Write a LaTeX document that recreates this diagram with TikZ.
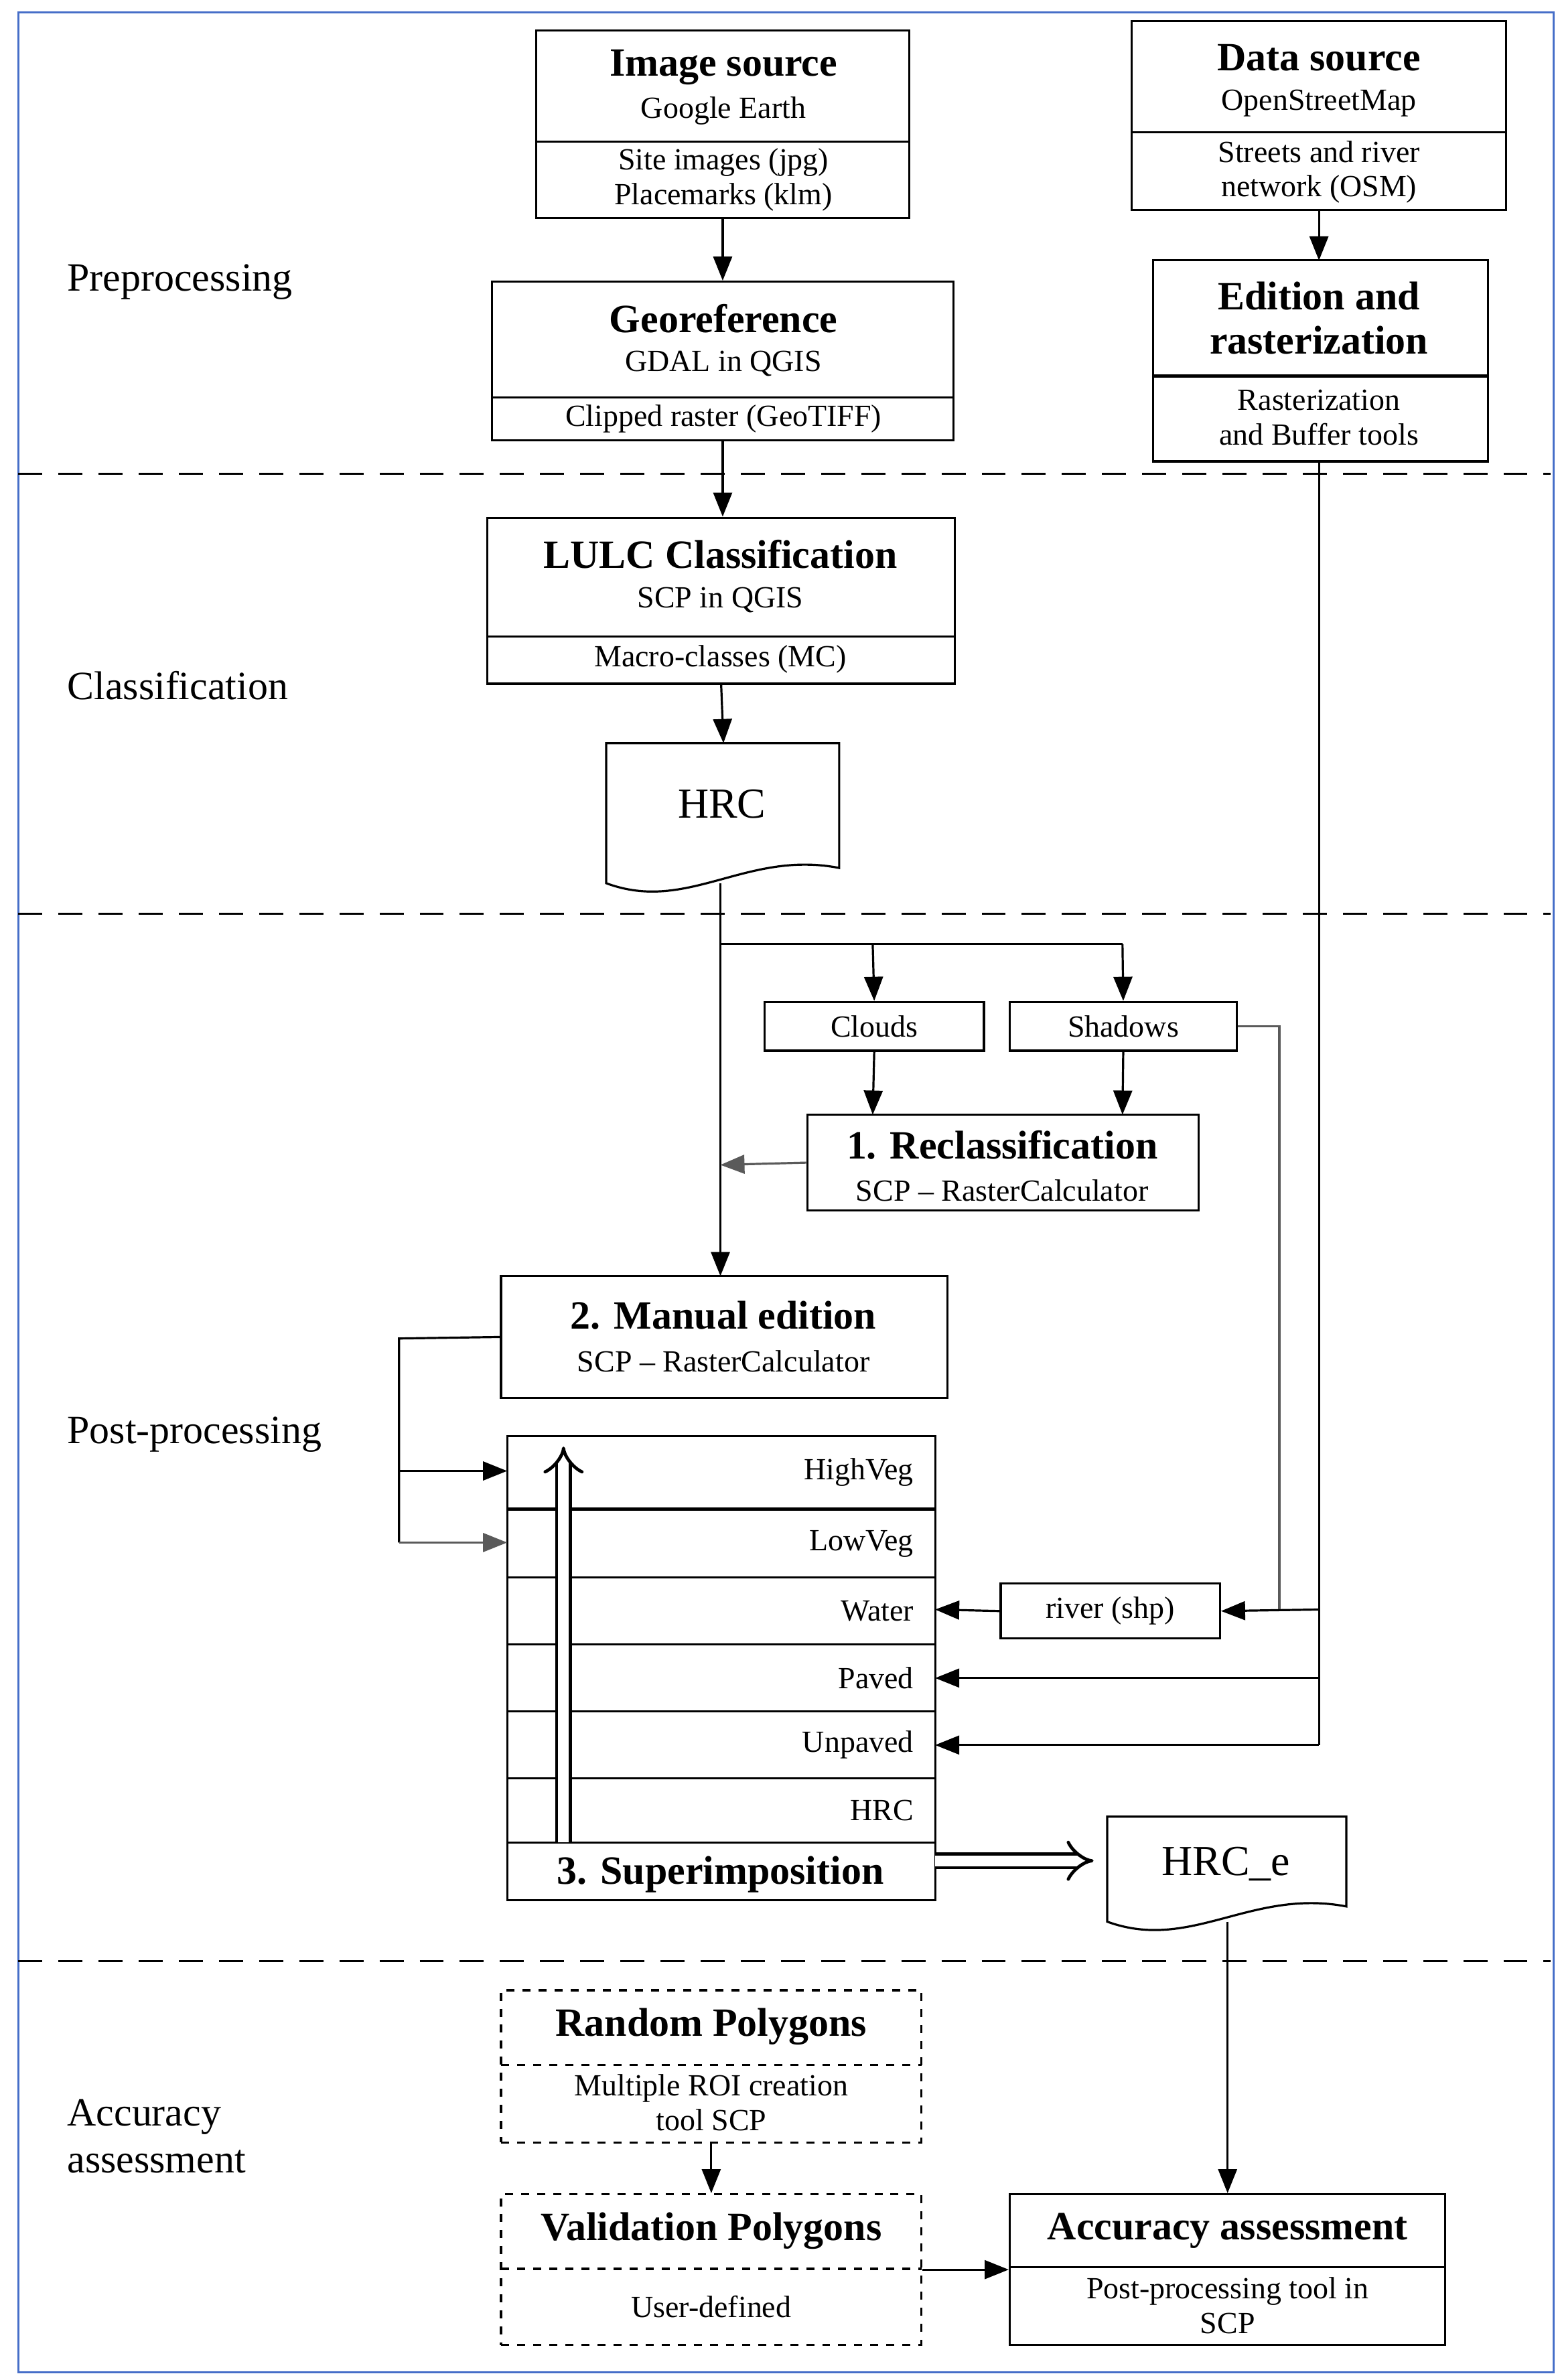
\documentclass[tikz,border=0pt]{standalone}
\usepackage{fontspec}
\setmainfont{Liberation Serif}
\usetikzlibrary{arrows.meta}
\definecolor{frameblue}{RGB}{70,110,200}
\definecolor{lgray}{RGB}{90,90,90}
\newcommand{\bx}[6]{\node[box,#6,minimum width={(#4-#2)*0.02cm},minimum height={(#5-#3)*0.02cm}] (#1) at ({(#2+#4)/2},{(#3+#5)/2}) {};}
\newcommand{\docshape}[5]{\draw[thick,fill=white] (#2,#3) -- (#4,#3) -- (#4,{#5-18}) .. controls ({#4-(#4-#2)*0.4},{#5-30}) and ({#2+(#4-#2)*0.35},{#5+12}) .. (#2,{#5-8}) -- cycle;
\coordinate (#1) at ({(#2+#4)/2},{(#3+#5)/2-8});}
\begin{document}
\begin{tikzpicture}[x=0.02cm,y=-0.02cm,
 box/.style={draw,thick,inner sep=0pt},
 tt/.style={font=\fontsize{15}{16.5}\selectfont\bfseries,align=center},
 st/.style={font=\fontsize{11.5}{13}\selectfont,align=center},
 lb/.style={font=\fontsize{15}{17.5}\selectfont,anchor=west,align=left},
 arr/.style={thick,-{Triangle[length=9pt,width=7pt]}},
 garr/.style={thick,lgray,-{Triangle[length=9pt,width=7pt]}},
 dbl/.style={double,double distance=4pt,very thick,-{Implies}}]
\useasboundingbox (0,0) rectangle (1024,1563);
\draw[frameblue,thick] (12,8) rectangle (1020,1558);
\foreach \y in {311,600,1288} \draw[thick,dashed,dash pattern=on 9pt off 6pt] (12,\y) -- (1018,\y);
\node[lb] (l1) at (38,185) {Preprocessing};
\node[lb] (l2) at (38,450) {Classification};
\node[lb] (l3) at (38,942) {Post-processing};
\node[lb] (l4) at (38,1403) {Accuracy\\assessment};
% Image source
\bx{img}{352}{20}{597}{143}{}
\draw[thick] (352,93)--(597,93);
\node[tt] at (475,44) {Image source};
\node[st] at (475,73) {Google Earth};
\node[st] at (475,118) {Site images (jpg)\\Placemarks (klm)};
% Data source
\bx{dat}{743}{14}{989}{138}{}
\draw[thick] (743,87)--(989,87);
\node[tt] at (866,38) {Data source};
\node[st] at (866,68) {OpenStreetMap};
\node[st] at (866,113) {Streets and river\\network (OSM)};
% Georeference
\bx{geo}{323}{185}{626}{289}{}
\draw[thick] (323,261)--(626,261);
\node[tt] at (475,209) {Georeference};
\node[st] at (475,239) {GDAL in QGIS};
\node[st] at (475,275) {Clipped raster (GeoTIFF)};
% Edition
\bx{edi}{757}{171}{977}{303}{}
\draw[very thick] (757,247)--(977,247);
\node[tt] at (866,209) {Edition and\\rasterization};
\node[st] at (866,274) {Rasterization\\and Buffer tools};
% LULC
\bx{lulc}{320}{340}{627}{449}{}
\draw[thick] (320,418)--(627,418);
\node[tt] at (473,364) {LULC Classification};
\node[st] at (473,394) {SCP in QGIS};
\node[st] at (473,433) {Macro-classes (MC)};
% HRC
\docshape{hrc}{398}{488}{551}{588}
\node[font=\fontsize{16}{18}\selectfont] at (474,528) {HRC};
% Clouds / Shadows
\bx{clo}{502}{658}{646}{690}{}\node[st] at (clo) {Clouds};
\bx{sha}{663}{658}{812}{690}{}\node[st] at (sha) {Shadows};
% Reclassification
\bx{rec}{530}{732}{787}{795}{}
\node[tt] at (658,752) {1. Reclassification};
\node[st] at (658,782) {SCP -- RasterCalculator};
% Manual edition
\bx{man}{329}{838}{622}{918}{}
\node[tt] at (475,864) {2. Manual edition};
\node[st] at (475,894) {SCP -- RasterCalculator};
% stack
\bx{stk}{333}{943}{614}{1248}{}
\draw[very thick] (333,991)--(614,991);
\foreach \y in {1036,1080,1124,1168,1210} \draw[thick] (333,\y)--(614,\y);
\node[st,anchor=east] (hv) at (606,967) {HighVeg};
\node[st,anchor=east] (lv) at (606,1014) {LowVeg};
\node[st,anchor=east] (wa) at (606,1058) {Water};
\node[st,anchor=east] (pa) at (606,1102) {Paved};
\node[st,anchor=east] (un) at (606,1146) {Unpaved};
\node[st,anchor=east] (hr) at (606,1189) {HRC};
\node[tt] (sup) at (473,1231) {3. Superimposition};
\draw[dbl] (370,1210) -- (370,950);
% river
\bx{riv}{657}{1040}{801}{1076}{}\node[st] at (riv) {river (shp)};
% HRC_e
\docshape{hrce}{727}{1193}{884}{1270}
\node[font=\fontsize{16}{18}\selectfont] at (805,1224) {HRC\_e};
\draw[dbl] (614,1222) -- (718,1222);
% Random polygons
\bx{ran}{329}{1307}{605}{1407}{dashed}
\draw[dashed,thick] (329,1356)--(605,1356);
\node[tt] at (467,1331) {Random Polygons};
\node[st] at (467,1381) {Multiple ROI creation\\tool SCP};
% Validation
\bx{val}{329}{1441}{605}{1540}{dashed}
\draw[dashed,thick] (329,1490)--(605,1490);
\node[tt] at (467,1465) {Validation Polygons};
\node[st] at (467,1515) {User-defined};
% Accuracy
\bx{acc}{663}{1441}{949}{1540}{}
\draw[thick] (663,1489)--(949,1489);
\node[tt] at (806,1465) {Accuracy assessment};
\node[st] at (806,1514) {Post-processing tool in\\SCP};
% connectors
\draw[arr] (img.south) -- (geo.north);
\draw[arr] (dat.south -| 866,0) -- (866,171);
\draw[arr] (geo.south) -- (lulc.north -| geo.south);
\draw[arr] (lulc.south) -- (475,488);
\draw[thick] (473,580) -- (473,620) -- (737,620);
\draw[arr] (573,620) -- (clo.north);
\draw[arr] (737,620) -- (sha.north);
\draw[arr] (473,620) -- (473,838);
\draw[arr] (clo.south) -- (573,732);
\draw[arr] (sha.south) -- (737,732);
\draw[garr] (rec.west) -- (473,765);
\draw[thick,lgray] (sha.east) -- (840,674) -- (840,1057);
\draw[thick] (866,303) -- (866,1146);
\draw[arr] (866,1057) -- (riv.east);
\draw[arr] (riv.west) -- (614,1057);
\draw[arr] (866,1102) -- (614,1102);
\draw[arr] (866,1146) -- (614,1146);
\draw[thick] (man.west) -- (262,879) -- (262,1013);
\draw[arr] (262,966) -- (333,966);
\draw[garr] (262,1013) -- (333,1013);
\draw[arr] (806,1262) -- (acc.north);
\draw[arr] (ran.south) -- (val.north);
\draw[arr] (val.east) -- (acc.west);
\end{tikzpicture}
\end{document}
